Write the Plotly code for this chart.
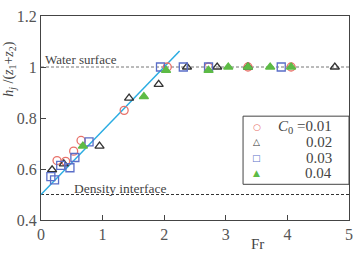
import plotly.graph_objects as go

# Data
fr_001 = [0.26, 0.40, 0.53, 0.65, 1.35, 2.05, 2.72, 3.36, 4.06]
h_001 = [0.633, 0.63, 0.67, 0.712, 0.83, 1.0, 1.0, 1.0, 1.0]
fr_002 = [0.18, 0.37, 0.95, 1.43, 1.91, 2.37, 2.86, 3.36, 4.77]
h_002 = [0.597, 0.62, 0.69, 0.878, 0.932, 1.0, 1.0, 1.0, 1.0]
fr_003 = [0.16, 0.22, 0.32, 0.47, 0.55, 0.78, 1.94, 2.31, 2.72, 3.90]
h_003 = [0.57, 0.557, 0.614, 0.605, 0.645, 0.706, 1.0, 1.0, 1.0, 1.0]
fr_004 = [0.68, 1.67, 2.03, 2.72, 3.04, 3.36, 3.72, 4.06]
h_004 = [0.69, 0.884, 0.987, 0.987, 1.0, 1.0, 1.0, 1.0]
fit_fr = [0.0, 2.25]
fit_h = [0.5, 1.0625]
water_y = 1.0
density_y = 0.5
x_ticks = [0, 1, 2, 3, 4, 5]
y_ticks = [0.4, 0.6, 0.8, 1.0, 1.2]
y_ticktext = ["0.4", "0.6", "0.8", "1", "1.2"]
legend_labels = ["<i>C</i><sub>0</sub> =0.01", "0.02", "0.03", "0.04"]
legend_glyphs = ["\u25CB", "\u25B3", "\u25A1", "\u25B2"]

SERIF = "'Liberation Serif', 'Times New Roman', 'DejaVu Serif', serif"
colors = ["#E8726A", "#333333", "#5A6EC8", "#5DBB46"]
fig = go.Figure()

fig.add_trace(go.Scatter(x=[0, 5], y=[water_y, water_y], mode="lines",
                         line=dict(color="#777777", width=1, dash="3px,2px"),
                         showlegend=False, hoverinfo="skip"))
fig.add_trace(go.Scatter(x=[0, 5], y=[density_y, density_y], mode="lines",
                         line=dict(color="#333333", width=1, dash="3px,2px"),
                         showlegend=False, hoverinfo="skip"))
fig.add_trace(go.Scatter(x=fit_fr, y=fit_h, mode="lines",
                         line=dict(color="#2AACE2", width=1.5),
                         showlegend=False, hoverinfo="skip"))

series = [(fr_001, h_001, "circle-open"), (fr_002, h_002, "triangle-up-open"),
          (fr_003, h_003, "square-open"), (fr_004, h_004, "triangle-up")]
for (xs, ys, sym), col, lab in zip(series, colors, legend_labels):
    fig.add_trace(go.Scatter(x=xs, y=ys, mode="markers", name=lab, showlegend=False,
                             marker=dict(symbol=sym, size=8, color=col,
                                         line=dict(width=1.3, color=col))))

# Legend (box + rows)
fig.add_shape(type="rect", xref="paper", yref="paper", x0=0.656, x1=1.0, y0=0.175, y1=0.509,
              line=dict(color="#444444", width=1), fillcolor="white", layer="above")
row_y = [0.455, 0.380, 0.305, 0.228]
for g, col, lab, ry in zip(legend_glyphs, colors, legend_labels, row_y):
    fig.add_annotation(x=0.701, y=ry, xref="paper", yref="paper", text=g, showarrow=False,
                       xanchor="center", yanchor="middle", borderpad=0,
                       font=dict(family="DejaVu Sans", size=9, color=col))
    fig.add_annotation(x=0.948, y=ry, xref="paper", yref="paper", text=lab, showarrow=False,
                       xanchor="right", yanchor="middle", borderpad=0,
                       font=dict(family=SERIF, size=15, color="#444444"))

fig.add_annotation(x=0.04, y=water_y, xref="x", yref="y", text="Water surface",
                   showarrow=False, xanchor="left", yanchor="bottom", yshift=-2,
                   font=dict(family=SERIF, size=13, color="#444444"))
fig.add_annotation(x=0.5, y=density_y, xref="x", yref="y", text="Density interface",
                   showarrow=False, xanchor="left", yanchor="bottom", yshift=-3,
                   font=dict(family=SERIF, size=13.5, color="#444444"))
fig.add_annotation(x=3.52, y=0, xref="x", yref="paper", text="Fr",
                   showarrow=False, xanchor="center", yanchor="top", yshift=-14,
                   font=dict(family=SERIF, size=15, color="#444444"))
fig.add_annotation(x=-0.105, y=0.74, xref="paper", yref="paper",
                   text="<i>h</i><sub><i>j</i></sub> /(<i>z</i><sub>1</sub>+<i>z</i><sub>2</sub>)",
                   showarrow=False, textangle=-90, xanchor="center", yanchor="middle",
                   font=dict(family=SERIF, size=14, color="#444444"))

axis_common = dict(showgrid=False, zeroline=False, showline=True, linecolor="#444444",
                   linewidth=1.2, mirror=True, ticks="inside", ticklen=5,
                   tickcolor="#444444", tickwidth=1,
                   tickfont=dict(family=SERIF, size=16, color="#555555"))
fig.update_xaxes(range=[0, 5], tickvals=x_ticks, **axis_common)
fig.update_yaxes(range=[0.4, 1.2], tickvals=y_ticks, ticktext=y_ticktext, **axis_common)

fig.update_layout(
    width=361, height=254,
    margin=dict(l=41, r=9, t=8, b=34),
    paper_bgcolor="white", plot_bgcolor="white",
    font=dict(family=SERIF),
    showlegend=False,
)

fig.write_html("out.html")
